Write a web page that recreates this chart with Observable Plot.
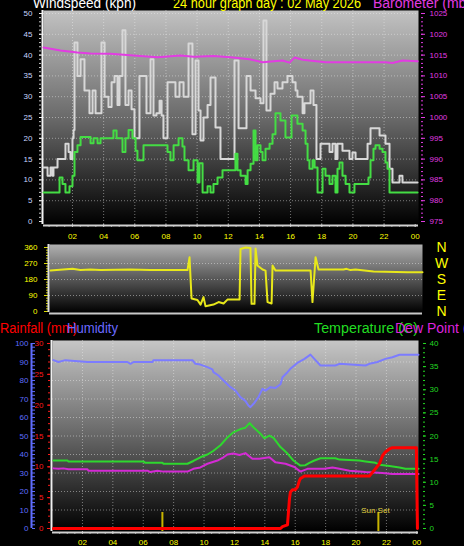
<!DOCTYPE html>
<html><head><meta charset="utf-8">
<script src="https://cdn.jsdelivr.net/npm/d3@7"></script>
<script src="https://cdn.jsdelivr.net/npm/@observablehq/plot@0.6"></script>
<style>
html,body{margin:0;padding:0;background:#000;}
#wrap{position:relative;width:464px;height:546px;overflow:hidden;background:#000;}
</style></head><body><div id="wrap"></div>
<script>
// ---------- DATA (hours since 00:00) ----------
const windHours = [0.14,0.40,0.59,0.72,0.78,1.04,1.55,1.75,1.87,2.00,2.07,2.13,2.32,2.52,2.77,3.09,3.29,3.48,3.86,4.06,4.31,4.51,4.70,4.89,5.02,5.21,5.40,5.60,5.79,5.98,6.30,6.75,7.01,7.20,7.39,7.59,7.72,7.84,8.10,8.61,8.87,9.13,9.45,9.70,9.90,10.09,10.22,10.41,10.67,10.86,11.18,11.50,12.40,12.66,13.17,13.43,13.75,14.07,14.26,14.45,14.71,14.97,15.16,15.48,15.80,16.12,16.32,16.44,16.77,16.89,17.28,17.47,17.66,17.92,18.50,18.69,18.88,19.01,19.33,19.78,19.97,20.17,20.94,21.13,21.71,22.09,22.35,22.54,22.99,23.18,24.15];
const windGust = [13,11,13,11,13,15,18.7,16.7,15,20,22,43,35,39,31.5,26,31.5,26,43,30,27.5,33.5,35,28,35,46,28,31.5,27,20,35,26,39,25.5,26,29,25.5,20,33.5,30,33.5,30,42.8,21,38.7,26.7,19.5,25,28,34.6,22.6,15,38.7,22.4,35,31.5,29.6,28.4,48.3,26.7,30.7,33.5,32,33.5,35,33.5,31.5,30,26,28.4,31.5,28,15,18.7,16.7,18.7,15,18.7,17,15,16.6,15,18.7,22.4,20.7,18.7,12.7,9.4,11,9.4,9.4];
const avgHours = [0.14,1.17,1.36,1.55,1.81,2.00,2.13,2.32,2.52,3.16,3.35,3.61,3.80,4.63,4.83,5.21,5.40,5.60,5.85,6.05,6.17,6.56,8.10,8.29,8.49,8.81,9.06,9.19,9.45,9.77,10.03,10.15,10.35,10.67,10.86,11.05,11.31,11.63,12.46,12.59,12.79,13.11,13.24,13.43,13.62,13.75,13.88,14.07,14.20,14.39,14.65,14.84,15.03,15.35,15.67,16.06,16.44,16.77,16.96,17.09,17.21,17.41,17.54,17.73,18.05,18.24,18.50,18.69,18.88,19.01,19.14,19.33,19.53,19.78,20.10,21.00,21.13,21.32,21.45,21.71,21.90,22.09,22.22,22.35,24.15];
const windAvg = [7,10.6,9,7,8.5,11,16.7,18.3,20.3,18.8,20,18.8,20,21.9,20,16.7,20,22,20,17,14.7,18.3,16.7,14.7,18.3,20,18,14.7,12.3,14.7,9.4,14,7,8.5,7,9,10.6,12.3,16.3,12.3,11,9,12.3,13.9,21.9,14.7,18.3,16.7,14.7,17.5,18.7,21,26,24.3,20.2,25.5,23.5,21.9,18.7,14.7,12.7,14.7,13,7,12.7,11,9,11,7,12.7,14.2,11,9,7,9,10.6,14.7,17.5,18.3,17.5,16.7,14.2,12.7,7,7];
const baroHours = [0.14,1.23,2.32,3.16,4.44,5.92,7.46,8.93,9.77,11.05,12.14,13.36,14.20,15.48,15.93,16.25,16.77,18.24,20.81,22.09,22.54,23.18,24.15];
const baroMb = [1016.8,1016.1,1015.6,1015.4,1015.3,1014.9,1014.5,1014.9,1014.6,1014.8,1014.5,1014.0,1013.3,1013.7,1013.2,1014.4,1013.9,1013.3,1013.3,1013.3,1013.1,1013.7,1013.5];
const dirHours = [0.06,1.48,1.99,2.64,3.28,5.21,6.50,8.88,9.01,9.14,9.52,9.72,9.91,10.04,10.55,10.88,11.20,11.45,12.23,12.29,12.61,12.93,13.00,13.19,13.26,13.38,13.71,13.90,14.03,14.29,14.35,14.54,16.80,16.92,17.12,17.31,18.92,19.11,19.37,19.69,20.85,23.04,24.00];
const windDir = [231,240,233,236,233,236,233,233,305,73,65,39,81,30,39,53,45,67,67,352,360,357,43,43,355,259,236,230,53,45,259,230,230,53,305,236,236,240,233,236,225,221,221];
const humHours = [0.09,0.42,0.88,2.33,4.96,5.16,5.36,6.61,6.67,9.24,9.43,9.76,10.22,10.55,10.62,10.95,11.28,11.74,12.07,12.39,12.72,12.92,13.05,13.32,13.58,13.84,14.04,14.37,14.70,15.03,15.16,15.49,15.68,16.14,16.61,17.00,17.33,17.66,18.64,18.91,20.62,20.88,21.41,21.93,22.39,22.86,24.11];
const humidity = [91,90,91,90,90,89,90,90,91,91,89,88.6,87.2,86,84.5,82.7,80,76.4,74.5,71,69,66.5,65.6,68,71,75.5,74.5,76.4,76,78,81.8,84.5,86.3,89.5,91.7,94,91,88.1,88.1,89,88.1,89,90,91.7,92.6,93.9,93.9];
const tempHours = [0.09,1.01,1.08,6.01,6.14,7.26,7.33,8.91,9.30,9.76,10.22,10.62,11.08,11.54,11.93,12.39,12.72,12.99,13.25,13.71,13.97,14.30,14.57,15.03,15.49,15.88,16.34,16.67,16.93,17.26,17.66,18.64,18.91,20.22,20.62,21.28,21.54,22.20,22.86,23.25,24.11];
const temperature = [14.7,14.7,14.5,14.5,14.2,14.2,14.0,14.0,14.6,15.4,16.0,16.8,18.0,19.7,20.8,21.5,21.8,22.8,21.9,20.5,19.5,20.1,19.6,17.6,16.2,14.7,13.6,13.7,14.2,14.7,15.2,15.2,14.9,14.7,14.5,14.2,13.8,13.5,13.2,12.9,12.9];
const dewHours = [0.09,0.42,0.75,1.08,2.33,2.39,6.28,6.47,6.93,7.33,8.91,9.30,9.76,10.22,10.88,11.28,11.54,11.93,12.33,12.72,13.18,13.64,14.30,14.70,15.36,15.95,16.34,16.80,17.92,18.45,18.91,19.57,20.62,21.74,22.39,24.11];
const dewPoint = [13.0,12.9,13.0,12.8,12.8,12.5,12.5,12.2,12.5,12.3,12.3,12.9,13.2,14.0,14.7,15.4,16.0,16.2,15.9,16.3,15.1,15.1,15.4,14.3,14.0,13.3,12.3,12.9,12.9,13.2,12.9,12.5,12.2,12.0,11.8,11.8];
const rainHours = [0.09,15.03,15.16,15.49,15.62,15.68,15.82,16.01,16.14,16.28,16.34,16.61,20.88,21.08,21.28,21.54,21.74,21.93,22.20,22.39,23.97,24.04];
const rainfall = [0,0,0.3,0.6,4.8,5.9,6.3,6.3,6.7,7.8,8.1,8.5,8.5,9.1,9.7,10.5,11.8,12.4,12.9,13.1,13.1,0];
const sunHours = [7.26, 21.47];
const sunLabels = ["", "Sun Set"];
const hourTicks = [2,4,6,8,10,12,14,16,18,20,22,24];
const hourLabels = ["02","04","06","08","10","12","14","16","18","20","22","00"];
const windTicks = [0,5,10,15,20,25,30,35,40,45,50];
const baroTicks = [975,980,985,990,995,1000,1005,1010,1015,1020,1025];
const dirTicks = [0,90,180,270,360];
const compassDeg = [360,270,180,90,0];
const compassLabels = ["N","W","S","E","N"];
const humTicks = [0,10,20,30,40,50,60,70,80,90,100];
const rainTicks = [0,5,10,15,20,25,30];
const tempTicks = [0,5,10,15,20,25,30,35,40];

// ---------- helpers ----------
const zip = (hs, vs) => hs.map((h, i) => ({h, v: vs[i]}));
const gust = zip(windHours, windGust), avg = zip(avgHours, windAvg), baro = zip(baroHours, baroMb);
const dir = zip(dirHours, windDir);
const hum = zip(humHours, humidity), temp = zip(tempHours, temperature), dew = zip(dewHours, dewPoint), rain = zip(rainHours, rainfall);
const sun = sunHours.map((h, i) => ({h, label: sunLabels[i]}));
const compass = compassDeg.map((deg, i) => ({deg, label: compassLabels[i]}));
const hourLabel = d => hourLabels[hourTicks.indexOf(d)];

const FONT = "'Liberation Sans', Arial, sans-serif";
const YELLOW = "#ffff00", MAGENTA = "#e23ce2", BLUE = "#5f6dff", RED = "#ff1a1a", GREEN = "#22d822";
const BARO_BASE = 975;            // 975..1025 mb shares the 0..50 kph range
const HUM_PER_RAIN = 100 / 30;    // rainfall axis 0..30 mm on 0..100 %
const HUM_PER_DEG = 100 / 40;     // temperature axis 0..40 C on 0..100 %
const topX = [0.14, 24.21], topY = [-0.72, 50.72];
const midX = [0, 24], midY = [-5.6, 376.9];
const botX = [0.03, 24.11], botY = [-1.62, 101.62];
const GRID = {stroke: "#f2f2f2", strokeOpacity: 0.45, strokeDasharray: "1,2"};
const blank = () => "";
const panelStyle = top => ({background: "transparent", position: "absolute", left: "0px", top: top + "px",
  overflow: "visible", fontFamily: FONT, fontSize: "8px", color: "#ddd"});

function gradient(id, stops) {
  return () => {
    const defs = d3.create("svg:defs");
    const g = defs.append("linearGradient").attr("id", id).attr("x1", 0).attr("y1", 0).attr("x2", 0).attr("y2", 1);
    for (const [o, c] of stops) g.append("stop").attr("offset", o).attr("stop-color", c);
    return defs.node();
  };
}

const wrap = document.getElementById("wrap");

// ---------- top: wind speed + barometer ----------
wrap.append(Plot.plot({
  width: 464, height: 242, marginLeft: 43, marginRight: 46, marginTop: 10, marginBottom: 18,
  style: panelStyle(0),
  x: {domain: topX, axis: null}, y: {domain: topY, axis: null},
  marks: [
    gradient("gTop", [[0, "#c2c2c2"], [0.5, "#6a6a6a"], [1, "#000"]]),
    Plot.frame({fill: "url(#gTop)", stroke: "none"}),
    Plot.gridY(windTicks.filter(v => v > 0), GRID),
    Plot.gridX(hourTicks.filter(h => h < 24), GRID),
    Plot.axisY(d3.range(0, 51), {anchor: "left", tickSize: 2, dx: -2, tickFormat: blank, stroke: "#ccc", label: null}),
    Plot.axisY(windTicks, {anchor: "left", tickSize: 4, tickPadding: 7, fill: "#c8d4ff", stroke: "#eee", label: null}),
    Plot.axisY(d3.range(0, 51), {anchor: "right", dx: 2, tickSize: 2, tickFormat: blank, stroke: MAGENTA, label: null}),
    Plot.axisY(baroTicks.map(m => m - BARO_BASE), {anchor: "right", dx: 2, tickSize: 4, tickPadding: 5,
      tickFormat: d => String(d + BARO_BASE), fill: MAGENTA, stroke: MAGENTA, label: null}),
    Plot.axisX(d3.range(0.5, 24.1, 0.5), {anchor: "bottom", tickSize: 2, dy: 1, tickFormat: blank, stroke: "#999", label: null}),
    Plot.axisX(hourTicks, {anchor: "bottom", tickSize: 3, tickPadding: 6, tickFormat: hourLabel, fill: YELLOW, stroke: "#bbb", label: null}),
    Plot.ruleX([topX[0]], {stroke: "#f4f4f4", strokeWidth: 2, dx: -1}),
    Plot.ruleY([topY[0]], {stroke: "#d0d0d0", strokeWidth: 2, dy: 1}),
    Plot.line(gust, {x: "h", y: "v", curve: "step-after", stroke: "#d8d8d8", strokeWidth: 2}),
    Plot.line(avg, {x: "h", y: "v", curve: "step-after", stroke: "#44dd44", strokeWidth: 2}),
    Plot.line(baro, {x: "h", y: d => d.v - BARO_BASE, stroke: MAGENTA, strokeWidth: 2})
  ]
}));

// ---------- middle: wind direction ----------
wrap.append(Plot.plot({
  width: 464, height: 80, marginLeft: 49, marginRight: 42, marginTop: 8, marginBottom: 4,
  style: panelStyle(236),
  x: {domain: midX, axis: null}, y: {domain: midY, axis: null},
  marks: [
    gradient("gMid", [[0, "#b0b0b0"], [1, "#000"]]),
    Plot.frame({fill: "url(#gMid)", stroke: "none"}),
    Plot.gridY(dirTicks.filter(d => d > 0 && d < 360), GRID),
    Plot.axisY(d3.range(0, 361, 15), {anchor: "left", tickSize: 3, tickFormat: blank, stroke: "#cccc00", label: null}),
    Plot.axisY(dirTicks, {anchor: "left", tickSize: 5, tickPadding: 7, fill: YELLOW, stroke: "#dddd00", label: null}),
    Plot.ruleX([midX[0]], {stroke: "#e0e0e0", strokeWidth: 2, dx: -1}),
    Plot.ruleY([midY[0]], {stroke: "#c8c8c8", strokeWidth: 2, dy: 1}),
    Plot.line(dir, {x: "h", y: "v", stroke: "#e8e81a", strokeWidth: 2}),
    Plot.text(compass, {y: "deg", text: "label", frameAnchor: "right", dx: 19, textAnchor: "middle", fill: YELLOW, fontSize: 14})
  ]
}));

// ---------- bottom: humidity, rainfall, temperature, dew point ----------
const botPlotWidth = 464 - 52 - 46;
wrap.append(Plot.plot({
  width: 464, height: 216, marginLeft: 52, marginRight: 46, marginTop: 10, marginBottom: 15,
  style: panelStyle(330),
  x: {domain: botX, axis: null}, y: {domain: botY, axis: null},
  marks: [
    gradient("gBot", [[0, "#c6c6c6"], [0.5, "#666"], [1, "#000"]]),
    Plot.frame({fill: "url(#gBot)", stroke: "none"}),
    Plot.gridY(humTicks.filter(v => v > 0 && v < 100), GRID),
    Plot.gridX(hourTicks.filter(h => h < 24), GRID),
    Plot.ruleX([botX[0]], {y1: humTicks[0], y2: humTicks[humTicks.length - 1], dx: -21, stroke: BLUE, strokeWidth: 2}),
    Plot.axisY(d3.range(0, 101, 2), {anchor: "right", dx: -botPlotWidth - 21, tickSize: 3, tickFormat: blank, stroke: BLUE, label: null}),
    Plot.axisY(humTicks, {anchor: "left", dx: -21, tickSize: 0, tickPadding: 3, fill: BLUE, label: null}),
    Plot.axisY(d3.range(0, 31).map(r => r * HUM_PER_RAIN), {anchor: "left", dx: -2, tickSize: 2, tickFormat: blank, stroke: RED, label: null}),
    Plot.axisY(rainTicks.map(r => r * HUM_PER_RAIN), {anchor: "left", dx: -2, tickSize: 3, tickPadding: 4,
      tickFormat: d => String(Math.round(d / HUM_PER_RAIN)), fill: RED, stroke: RED, label: null}),
    Plot.axisY(d3.range(0, 41).map(t => t * HUM_PER_DEG), {anchor: "right", dx: 4, tickSize: 2, tickFormat: blank, stroke: GREEN, label: null}),
    Plot.axisY(tempTicks.map(t => t * HUM_PER_DEG), {anchor: "right", dx: 4, tickSize: 3, tickPadding: 4,
      tickFormat: d => String(Math.round(d / HUM_PER_DEG)), fill: GREEN, stroke: GREEN, label: null}),
    Plot.axisX(d3.range(0.5, 24.1, 0.5), {anchor: "bottom", tickSize: 2, dy: 1, tickFormat: blank, stroke: "#999", label: null}),
    Plot.axisX(hourTicks, {anchor: "bottom", tickSize: 3, tickPadding: 5, tickFormat: hourLabel, fill: YELLOW, stroke: "#bbb", label: null}),
    Plot.ruleX([botX[0]], {stroke: "#f0f0f0", strokeWidth: 2, dx: -1}),
    Plot.ruleY([botY[0]], {stroke: "#d0d0d0", strokeWidth: 2, dy: 1}),
    Plot.line(hum, {x: "h", y: "v", stroke: "#7c7cff", strokeWidth: 2}),
    Plot.line(temp, {x: "h", y: d => d.v * HUM_PER_DEG, stroke: "#2ed82e", strokeWidth: 2}),
    Plot.line(dew, {x: "h", y: d => d.v * HUM_PER_DEG, stroke: "#d42ad4", strokeWidth: 2}),
    Plot.ruleX(sun, {x: "h", insetTop: 172, stroke: "#c8b400", strokeWidth: 2}),
    Plot.text(sun, {x: "h", text: "label", frameAnchor: "bottom", lineAnchor: "bottom", dy: -19, dx: -3, fill: "#e0d040", fontSize: 8}),
    Plot.line(rain, {x: "h", y: d => d.v * HUM_PER_RAIN, stroke: "#ff0000", strokeWidth: 3})
  ]
}));

// ---------- titles ----------
const titles = [
  {text: "Windspeed (kph)", x: 33, y: 8, color: "#ffffff", len: 103},
  {text: "24 hour graph day : 02 May 2026", x: 173, y: 8, color: YELLOW, len: 188},
  {text: "Barometer (mb)", x: 373, y: 8, color: MAGENTA},
  {text: "Rainfall (mm)", x: 0, y: 332.5, color: "#ff0000", len: 77},
  {text: "Humidity", x: 67, y: 332.5, color: "#6a6aff", len: 51},
  {text: "Temperature (C)", x: 314, y: 332.5, color: "#22dd22", len: 104},
  {text: "Dew Point (C)", x: 395, y: 332.5, color: "#dd22dd"}
];
const overlay = d3.select(wrap).append("svg").attr("width", 464).attr("height", 546)
  .style("position", "absolute").style("left", "0px").style("top", "0px").style("pointer-events", "none");
for (const t of titles) {
  const e = overlay.append("text").attr("x", t.x).attr("y", t.y).attr("fill", t.color)
    .attr("font-family", FONT).attr("font-size", 14).text(t.text);
  if (t.len) e.attr("textLength", t.len).attr("lengthAdjust", "spacingAndGlyphs");
}
</script></body></html>
